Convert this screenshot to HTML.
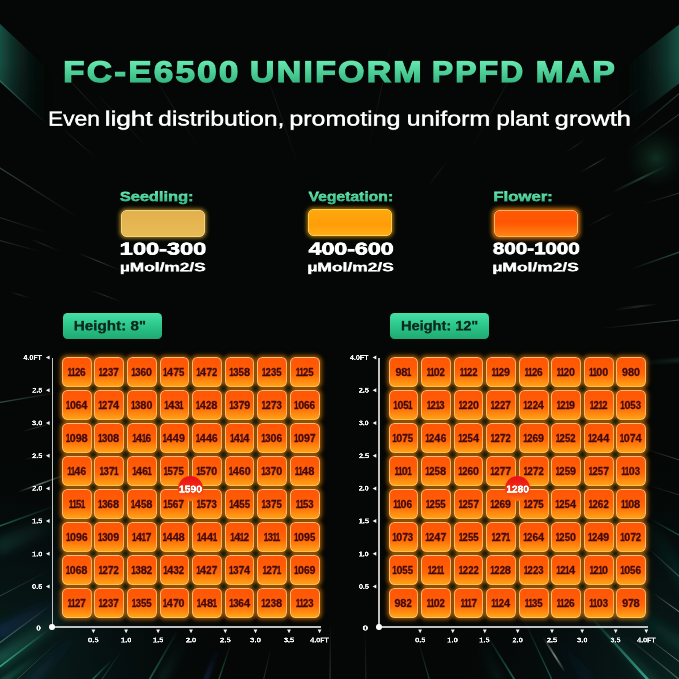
<!DOCTYPE html>
<html><head><meta charset="utf-8"><title>FC-E6500 Uniform PPFD Map</title>
<style>
html,body{margin:0;padding:0;background:#040706}
#p{position:relative;width:679px;height:679px;overflow:hidden;background:#040706;font-family:"Liberation Sans",sans-serif}
#bg{position:absolute;left:0;top:0;width:679px;height:679px}
.t{position:absolute;will-change:transform;line-height:1;white-space:nowrap;transform-origin:0 0;font-weight:700;color:#fff}
.ttl{background:linear-gradient(#68e8b0 26%,#35b781 74%);-webkit-background-clip:text;background-clip:text;-webkit-text-fill-color:transparent;-webkit-text-stroke-color:transparent;line-height:1.5}
.sub{font-weight:400}
.lbl{background:linear-gradient(#66e4ae 28%,#3cbd88 72%);-webkit-background-clip:text;background-clip:text;-webkit-text-fill-color:transparent;-webkit-text-stroke-color:transparent;line-height:1.5}
.btxt{color:#0c2a1f}
.ax{color:#f4f4f4}
.mk{color:#fff;text-shadow:0 0 5px rgba(255,220,190,.55)}
.sw{position:absolute;width:82.6px;height:25.4px;border-radius:5px;border:1px solid}
.btn{position:absolute;top:313px;width:98.5px;height:26.3px;border-radius:4.5px;background:linear-gradient(#48dfa6,#2cc88c 45%,#1fa971)}
.c{position:absolute;width:27.8px;height:27.8px;border:1.1px solid rgba(255,190,122,.95);border-bottom-color:rgba(255,206,96,.95);border-radius:5.5px;background:linear-gradient(#ff5607 0%,#ff5b06 35%,#ff6908 60%,#ff8a10 82%,#ffa418 100%);box-shadow:0 0 3.5px 1.1px rgba(255,150,10,.42),0 0 7px 2px rgba(255,120,0,.17);color:#420a10}
.n{position:absolute;left:50%;top:53.6%;font-size:40.8px;line-height:1;white-space:nowrap;transform:translate(-50%,-50%) scale(.25,.253);-webkit-text-stroke:1.2px #420a10}
.c b{display:inline-block;font-weight:700}
.d0{transform:scaleX(1.047);margin:0 .013em}
.d1{transform:scaleX(.8);margin:0 -.116em}
.d2{transform:scaleX(.928);margin:0 -.02em}
.d3{transform:scaleX(.938);margin:0 -.0175em}
.d4{transform:scaleX(1.08);margin:0 .022em}
.d5{transform:scaleX(.945);margin:0 -.0155em}
.d6{transform:scaleX(.985);margin:0 -.004em}
.d7{transform:scaleX(1);margin:0}
.d8{transform:scaleX(1.09);margin:0 .025em}
.d9{transform:scaleX(1.045);margin:0 .0125em}
.vl{position:absolute;top:357.6px;width:1.6px;height:269.6px;background:#c2c2c2}
.hl{position:absolute;top:626.4px;width:268.8px;height:1.6px;background:#c2c2c2}
.dot{position:absolute;top:624.4px;width:5.8px;height:5.8px;border-radius:50%;background:#fff}
.ov{position:absolute;left:0;top:0;width:679px;height:679px;pointer-events:none}
.x{position:absolute;width:9px;height:9px;margin:-4.5px 0 0 -4.5px;background:radial-gradient(closest-side,rgba(14,28,12,.9),rgba(30,34,8,.55) 45%,rgba(60,40,0,0))}
.mk0{position:absolute;top:476.1px;width:25.4px;height:25.4px;border-radius:50%;background:linear-gradient(#ec1218 10%,#f22c10 48%,#ff6a0c 92%);box-shadow:0 0 2px rgba(255,90,0,.6)}
</style></head><body>
<div id="p">
<svg id="bg" viewBox="0 0 679 679">
<defs>
<linearGradient id="btl" gradientUnits="userSpaceOnUse" x1="0" y1="0" x2="54" y2="0"><stop offset="0" stop-color="#1d6353" stop-opacity=".8"/><stop offset=".35" stop-color="#14463b" stop-opacity=".45"/><stop offset=".7" stop-color="#0d2a25" stop-opacity=".15"/><stop offset="1" stop-color="#0a1f1b" stop-opacity="0"/></linearGradient><linearGradient id="bfade" x1="0" y1="0" x2="0" y2="1"><stop offset="0" stop-color="#fff"/><stop offset=".35" stop-color="#fff"/><stop offset="1" stop-color="#fff" stop-opacity=".45"/></linearGradient><mask id="mtl" maskUnits="userSpaceOnUse" x="0" y="0" width="679" height="200"><rect x="0" y="20" width="679" height="120" fill="url(#bfade)"/></mask><filter id="b0" x="-10%" y="-10%" width="120%" height="120%"><feGaussianBlur stdDeviation=".7"/></filter><radialGradient id="blob" gradientUnits="userSpaceOnUse" cx="656" cy="158" r="30"><stop offset="0" stop-color="#14402c" stop-opacity=".7"/><stop offset="1" stop-color="#0a1f1b" stop-opacity="0"/></radialGradient>
<linearGradient id="btr" gradientUnits="userSpaceOnUse" x1="679" y1="0" x2="618" y2="0"><stop offset="0" stop-color="#1d6353" stop-opacity=".8"/><stop offset=".35" stop-color="#14463b" stop-opacity=".45"/><stop offset=".7" stop-color="#0d2a25" stop-opacity=".15"/><stop offset="1" stop-color="#0a1f1b" stop-opacity="0"/></linearGradient>
<radialGradient id="rbl" gradientUnits="userSpaceOnUse" cx="0" cy="679" r="240"><stop offset="0" stop-color="#0f4a40" stop-opacity=".45"/><stop offset=".55" stop-color="#0a2a30" stop-opacity=".2"/><stop offset="1" stop-color="#040706" stop-opacity="0"/></radialGradient>
<radialGradient id="rbr" gradientUnits="userSpaceOnUse" cx="679" cy="679" r="240"><stop offset="0" stop-color="#0f4a40" stop-opacity=".4"/><stop offset=".55" stop-color="#0a2a30" stop-opacity=".16"/><stop offset="1" stop-color="#040706" stop-opacity="0"/></radialGradient>
<filter id="b1" x="-20%" y="-20%" width="140%" height="140%"><feGaussianBlur stdDeviation="1.6"/></filter><filter id="b2" x="-30%" y="-30%" width="160%" height="160%"><feGaussianBlur stdDeviation="4"/></filter>
<linearGradient id="r0" gradientUnits="userSpaceOnUse" x1="70" y1="612" x2="-4" y2="662"><stop offset="0" stop-color="#2f9a84" stop-opacity="0"/><stop offset="1" stop-color="#2f9a84" stop-opacity="0.42"/></linearGradient>
<linearGradient id="r1" gradientUnits="userSpaceOnUse" x1="62" y1="600" x2="-4" y2="634"><stop offset="0" stop-color="#1c3a78" stop-opacity="0"/><stop offset="1" stop-color="#1c3a78" stop-opacity="0.5"/></linearGradient>
<linearGradient id="r2" gradientUnits="userSpaceOnUse" x1="48" y1="630" x2="-2" y2="668"><stop offset="0" stop-color="#35b08c" stop-opacity="0"/><stop offset="1" stop-color="#35b08c" stop-opacity="0.95"/></linearGradient>
<linearGradient id="r3" gradientUnits="userSpaceOnUse" x1="52" y1="604" x2="-2" y2="644"><stop offset="0" stop-color="#8fa39d" stop-opacity="0"/><stop offset="1" stop-color="#8fa39d" stop-opacity="0.55"/></linearGradient>
<linearGradient id="r4" gradientUnits="userSpaceOnUse" x1="48" y1="571" x2="-2" y2="597"><stop offset="0" stop-color="#8fa39d" stop-opacity="0"/><stop offset="1" stop-color="#8fa39d" stop-opacity="0.35"/></linearGradient>
<linearGradient id="r5" gradientUnits="userSpaceOnUse" x1="60" y1="640" x2="14" y2="682"><stop offset="0" stop-color="#8fa39d" stop-opacity="0"/><stop offset="1" stop-color="#8fa39d" stop-opacity="0.4"/></linearGradient>
<linearGradient id="r6" gradientUnits="userSpaceOnUse" x1="112" y1="660" x2="88" y2="684"><stop offset="0" stop-color="#2f9a84" stop-opacity="0"/><stop offset="1" stop-color="#2f9a84" stop-opacity="0.75"/></linearGradient>
<linearGradient id="r7" gradientUnits="userSpaceOnUse" x1="122" y1="650" x2="100" y2="682"><stop offset="0" stop-color="#2f9a84" stop-opacity="0"/><stop offset="1" stop-color="#2f9a84" stop-opacity="0.5"/></linearGradient>
<linearGradient id="r8" gradientUnits="userSpaceOnUse" x1="40" y1="655" x2="2" y2="682"><stop offset="0" stop-color="#2f9a84" stop-opacity="0"/><stop offset="1" stop-color="#2f9a84" stop-opacity="0.3"/></linearGradient>
<linearGradient id="r9" gradientUnits="userSpaceOnUse" x1="80" y1="632" x2="30" y2="682"><stop offset="0" stop-color="#1c3a78" stop-opacity="0"/><stop offset="1" stop-color="#1c3a78" stop-opacity="0.35"/></linearGradient>
<linearGradient id="r10" gradientUnits="userSpaceOnUse" x1="58" y1="392.5" x2="-2" y2="402.8"><stop offset="0" stop-color="#5a7f76" stop-opacity="0"/><stop offset="1" stop-color="#5a7f76" stop-opacity="0.6"/></linearGradient>
<linearGradient id="r11" gradientUnits="userSpaceOnUse" x1="52" y1="423.4" x2="22" y2="431.5"><stop offset="0" stop-color="#8fa39d" stop-opacity="0"/><stop offset=".55" stop-color="#8fa39d" stop-opacity="0.32"/><stop offset="1" stop-color="#8fa39d" stop-opacity="0"/></linearGradient>
<linearGradient id="r12" gradientUnits="userSpaceOnUse" x1="52" y1="453.3" x2="24" y2="459.6"><stop offset="0" stop-color="#8fa39d" stop-opacity="0"/><stop offset=".55" stop-color="#8fa39d" stop-opacity="0.32"/><stop offset="1" stop-color="#8fa39d" stop-opacity="0"/></linearGradient>
<linearGradient id="r13" gradientUnits="userSpaceOnUse" x1="66" y1="474.5" x2="18" y2="492"><stop offset="0" stop-color="#86a89c" stop-opacity="0"/><stop offset=".55" stop-color="#86a89c" stop-opacity="0.7"/><stop offset="1" stop-color="#86a89c" stop-opacity="0"/></linearGradient>
<linearGradient id="r14" gradientUnits="userSpaceOnUse" x1="56" y1="505.6" x2="-2" y2="526.6"><stop offset="0" stop-color="#2f9a84" stop-opacity="0"/><stop offset="1" stop-color="#2f9a84" stop-opacity="0.55"/></linearGradient>
<linearGradient id="r15" gradientUnits="userSpaceOnUse" x1="60" y1="520" x2="-4" y2="548"><stop offset="0" stop-color="#2f9a84" stop-opacity="0"/><stop offset="1" stop-color="#2f9a84" stop-opacity="0.22"/></linearGradient>
<linearGradient id="r16" gradientUnits="userSpaceOnUse" x1="78" y1="217.5" x2="-2" y2="166.7"><stop offset="0" stop-color="#5d7a72" stop-opacity="0"/><stop offset="1" stop-color="#5d7a72" stop-opacity="0.5"/></linearGradient>
<linearGradient id="r17" gradientUnits="userSpaceOnUse" x1="48" y1="233" x2="-2" y2="217"><stop offset="0" stop-color="#8fa39d" stop-opacity="0"/><stop offset="1" stop-color="#8fa39d" stop-opacity="0.25"/></linearGradient>
<linearGradient id="r18" gradientUnits="userSpaceOnUse" x1="42" y1="252" x2="-2" y2="240"><stop offset="0" stop-color="#8fa39d" stop-opacity="0"/><stop offset="1" stop-color="#8fa39d" stop-opacity="0.28"/></linearGradient>
<linearGradient id="r19" gradientUnits="userSpaceOnUse" x1="60" y1="251.4" x2="30" y2="238.6"><stop offset="0" stop-color="#8fa39d" stop-opacity="0"/><stop offset=".55" stop-color="#8fa39d" stop-opacity="0.22"/><stop offset="1" stop-color="#8fa39d" stop-opacity="0"/></linearGradient>
<linearGradient id="r20" gradientUnits="userSpaceOnUse" x1="122" y1="271" x2="78" y2="253"><stop offset="0" stop-color="#8fa39d" stop-opacity="0"/><stop offset=".55" stop-color="#8fa39d" stop-opacity="0.3"/><stop offset="1" stop-color="#8fa39d" stop-opacity="0"/></linearGradient>
<linearGradient id="r21" gradientUnits="userSpaceOnUse" x1="122" y1="302" x2="90" y2="290"><stop offset="0" stop-color="#8fa39d" stop-opacity="0"/><stop offset=".55" stop-color="#8fa39d" stop-opacity="0.25"/><stop offset="1" stop-color="#8fa39d" stop-opacity="0"/></linearGradient>
<linearGradient id="r22" gradientUnits="userSpaceOnUse" x1="30" y1="298" x2="10" y2="292"><stop offset="0" stop-color="#8fa39d" stop-opacity="0"/><stop offset=".55" stop-color="#8fa39d" stop-opacity="0.2"/><stop offset="1" stop-color="#8fa39d" stop-opacity="0"/></linearGradient>
<linearGradient id="r23" gradientUnits="userSpaceOnUse" x1="48" y1="125" x2="-2" y2="79"><stop offset="0" stop-color="#4c7a6e" stop-opacity="0"/><stop offset="1" stop-color="#4c7a6e" stop-opacity="0.6"/></linearGradient>
<linearGradient id="r24" gradientUnits="userSpaceOnUse" x1="105" y1="118" x2="60" y2="70"><stop offset="0" stop-color="#8fa39d" stop-opacity="0"/><stop offset=".55" stop-color="#8fa39d" stop-opacity="0.2"/><stop offset="1" stop-color="#8fa39d" stop-opacity="0"/></linearGradient>
<linearGradient id="r25" gradientUnits="userSpaceOnUse" x1="150" y1="150" x2="95" y2="92"><stop offset="0" stop-color="#8fa39d" stop-opacity="0"/><stop offset=".55" stop-color="#8fa39d" stop-opacity="0.16"/><stop offset="1" stop-color="#8fa39d" stop-opacity="0"/></linearGradient>
<linearGradient id="r26" gradientUnits="userSpaceOnUse" x1="96" y1="158" x2="62" y2="128"><stop offset="0" stop-color="#8fa39d" stop-opacity="0"/><stop offset=".55" stop-color="#8fa39d" stop-opacity="0.18"/><stop offset="1" stop-color="#8fa39d" stop-opacity="0"/></linearGradient>
<linearGradient id="r27" gradientUnits="userSpaceOnUse" x1="178" y1="630" x2="148" y2="682"><stop offset="0" stop-color="#2f9470" stop-opacity="0"/><stop offset="1" stop-color="#2f9470" stop-opacity="0.6"/></linearGradient>
<linearGradient id="r28" gradientUnits="userSpaceOnUse" x1="184" y1="640" x2="160" y2="682"><stop offset="0" stop-color="#2f9a84" stop-opacity="0"/><stop offset="1" stop-color="#2f9a84" stop-opacity="0.2"/></linearGradient>
<linearGradient id="r29" gradientUnits="userSpaceOnUse" x1="218" y1="648" x2="205" y2="682"><stop offset="0" stop-color="#1c3a78" stop-opacity="0"/><stop offset="1" stop-color="#1c3a78" stop-opacity="0.4"/></linearGradient>
<linearGradient id="r30" gradientUnits="userSpaceOnUse" x1="231" y1="643" x2="218" y2="682"><stop offset="0" stop-color="#2e8a5c" stop-opacity="0"/><stop offset="1" stop-color="#2e8a5c" stop-opacity="0.6"/></linearGradient>
<linearGradient id="r31" gradientUnits="userSpaceOnUse" x1="271" y1="648" x2="263" y2="682"><stop offset="0" stop-color="#8fa39d" stop-opacity="0"/><stop offset="1" stop-color="#8fa39d" stop-opacity="0.3"/></linearGradient>
<linearGradient id="r32" gradientUnits="userSpaceOnUse" x1="330.5" y1="622" x2="330" y2="682"><stop offset="0" stop-color="#8fa39d" stop-opacity="0"/><stop offset="1" stop-color="#8fa39d" stop-opacity="0.3"/></linearGradient>
<linearGradient id="r33" gradientUnits="userSpaceOnUse" x1="365" y1="630" x2="366" y2="682"><stop offset="0" stop-color="#8fa39d" stop-opacity="0"/><stop offset="1" stop-color="#8fa39d" stop-opacity="0.22"/></linearGradient>
<linearGradient id="r34" gradientUnits="userSpaceOnUse" x1="418" y1="640" x2="430" y2="682"><stop offset="0" stop-color="#2f9a84" stop-opacity="0"/><stop offset="1" stop-color="#2f9a84" stop-opacity="0.4"/></linearGradient>
<linearGradient id="r35" gradientUnits="userSpaceOnUse" x1="486" y1="634" x2="516" y2="682"><stop offset="0" stop-color="#2f9a84" stop-opacity="0"/><stop offset="1" stop-color="#2f9a84" stop-opacity="0.6"/></linearGradient>
<linearGradient id="r36" gradientUnits="userSpaceOnUse" x1="480" y1="640" x2="500" y2="682"><stop offset="0" stop-color="#2f9a84" stop-opacity="0"/><stop offset="1" stop-color="#2f9a84" stop-opacity="0.18"/></linearGradient>
<linearGradient id="r37" gradientUnits="userSpaceOnUse" x1="543" y1="637" x2="565" y2="672"><stop offset="0" stop-color="#9fb0ac" stop-opacity="0"/><stop offset=".55" stop-color="#9fb0ac" stop-opacity="0.7"/><stop offset="1" stop-color="#9fb0ac" stop-opacity="0"/></linearGradient>
<linearGradient id="r38" gradientUnits="userSpaceOnUse" x1="524" y1="620" x2="553" y2="682"><stop offset="0" stop-color="#2f9a84" stop-opacity="0"/><stop offset="1" stop-color="#2f9a84" stop-opacity="0.55"/></linearGradient>
<linearGradient id="r39" gradientUnits="userSpaceOnUse" x1="590" y1="616" x2="650" y2="682"><stop offset="0" stop-color="#35a892" stop-opacity="0"/><stop offset="1" stop-color="#35a892" stop-opacity="0.95"/></linearGradient>
<linearGradient id="r40" gradientUnits="userSpaceOnUse" x1="588" y1="610" x2="660" y2="690"><stop offset="0" stop-color="#2f9a84" stop-opacity="0"/><stop offset="1" stop-color="#2f9a84" stop-opacity="0.32"/></linearGradient>
<linearGradient id="r41" gradientUnits="userSpaceOnUse" x1="626" y1="636" x2="681" y2="681"><stop offset="0" stop-color="#8fa39d" stop-opacity="0"/><stop offset="1" stop-color="#8fa39d" stop-opacity="0.5"/></linearGradient>
<linearGradient id="r42" gradientUnits="userSpaceOnUse" x1="644" y1="635" x2="681" y2="663"><stop offset="0" stop-color="#c9d6d2" stop-opacity="0"/><stop offset="1" stop-color="#c9d6d2" stop-opacity="0.55"/></linearGradient>
<linearGradient id="r43" gradientUnits="userSpaceOnUse" x1="610" y1="596" x2="690" y2="650"><stop offset="0" stop-color="#1a6a5c" stop-opacity="0"/><stop offset="1" stop-color="#1a6a5c" stop-opacity="0.3"/></linearGradient>
<linearGradient id="r44" gradientUnits="userSpaceOnUse" x1="646" y1="520" x2="690" y2="590"><stop offset="0" stop-color="#14584c" stop-opacity="0"/><stop offset="1" stop-color="#14584c" stop-opacity="0.32"/></linearGradient>
<linearGradient id="r45" gradientUnits="userSpaceOnUse" x1="560" y1="640" x2="590" y2="682"><stop offset="0" stop-color="#1c3a78" stop-opacity="0"/><stop offset="1" stop-color="#1c3a78" stop-opacity="0.3"/></linearGradient>
<linearGradient id="r46" gradientUnits="userSpaceOnUse" x1="612" y1="310.5" x2="657" y2="304.5"><stop offset="0" stop-color="#8fa39d" stop-opacity="0"/><stop offset=".55" stop-color="#8fa39d" stop-opacity="0.22"/><stop offset="1" stop-color="#8fa39d" stop-opacity="0"/></linearGradient>
<linearGradient id="r47" gradientUnits="userSpaceOnUse" x1="600" y1="328.5" x2="681" y2="319.8"><stop offset="0" stop-color="#7a928b" stop-opacity="0"/><stop offset="1" stop-color="#7a928b" stop-opacity="0.5"/></linearGradient>
<linearGradient id="r48" gradientUnits="userSpaceOnUse" x1="640" y1="363" x2="681" y2="360"><stop offset="0" stop-color="#3a6a62" stop-opacity="0"/><stop offset="1" stop-color="#3a6a62" stop-opacity="0.4"/></linearGradient>
<linearGradient id="r49" gradientUnits="userSpaceOnUse" x1="645" y1="449" x2="681" y2="460.5"><stop offset="0" stop-color="#8fa39d" stop-opacity="0"/><stop offset="1" stop-color="#8fa39d" stop-opacity="0.4"/></linearGradient>
<linearGradient id="r50" gradientUnits="userSpaceOnUse" x1="646" y1="484.5" x2="681" y2="495.5"><stop offset="0" stop-color="#8fa39d" stop-opacity="0"/><stop offset="1" stop-color="#8fa39d" stop-opacity="0.25"/></linearGradient>
<linearGradient id="r51" gradientUnits="userSpaceOnUse" x1="650" y1="519" x2="681" y2="536"><stop offset="0" stop-color="#2f9a84" stop-opacity="0"/><stop offset="1" stop-color="#2f9a84" stop-opacity="0.55"/></linearGradient>
<linearGradient id="r52" gradientUnits="userSpaceOnUse" x1="648" y1="548" x2="681" y2="578"><stop offset="0" stop-color="#8fa39d" stop-opacity="0"/><stop offset="1" stop-color="#8fa39d" stop-opacity="0.45"/></linearGradient>
<linearGradient id="r53" gradientUnits="userSpaceOnUse" x1="653" y1="593" x2="681" y2="613"><stop offset="0" stop-color="#c9d6d2" stop-opacity="0"/><stop offset="1" stop-color="#c9d6d2" stop-opacity="0.55"/></linearGradient>
<linearGradient id="r54" gradientUnits="userSpaceOnUse" x1="580" y1="172.5" x2="607" y2="157"><stop offset="0" stop-color="#8fa39d" stop-opacity="0"/><stop offset=".55" stop-color="#8fa39d" stop-opacity="0.3"/><stop offset="1" stop-color="#8fa39d" stop-opacity="0"/></linearGradient>
<linearGradient id="r55" gradientUnits="userSpaceOnUse" x1="612" y1="192.5" x2="666" y2="166"><stop offset="0" stop-color="#3f6e58" stop-opacity="0"/><stop offset=".55" stop-color="#3f6e58" stop-opacity="0.5"/><stop offset="1" stop-color="#3f6e58" stop-opacity="0"/></linearGradient>
<linearGradient id="r56" gradientUnits="userSpaceOnUse" x1="643" y1="204" x2="681" y2="192.5"><stop offset="0" stop-color="#8fa39d" stop-opacity="0"/><stop offset="1" stop-color="#8fa39d" stop-opacity="0.3"/></linearGradient>
<linearGradient id="r57" gradientUnits="userSpaceOnUse" x1="588" y1="226" x2="615" y2="212"><stop offset="0" stop-color="#8fa39d" stop-opacity="0"/><stop offset=".55" stop-color="#8fa39d" stop-opacity="0.22"/><stop offset="1" stop-color="#8fa39d" stop-opacity="0"/></linearGradient>
<linearGradient id="r58" gradientUnits="userSpaceOnUse" x1="630" y1="269.5" x2="681" y2="251.5"><stop offset="0" stop-color="#3f8068" stop-opacity="0"/><stop offset="1" stop-color="#3f8068" stop-opacity="0.6"/></linearGradient>
<linearGradient id="r59" gradientUnits="userSpaceOnUse" x1="618" y1="308" x2="657" y2="304"><stop offset="0" stop-color="#8fa39d" stop-opacity="0"/><stop offset=".55" stop-color="#8fa39d" stop-opacity="0.2"/><stop offset="1" stop-color="#8fa39d" stop-opacity="0"/></linearGradient>
<linearGradient id="r60" gradientUnits="userSpaceOnUse" x1="565" y1="153" x2="585" y2="139.5"><stop offset="0" stop-color="#8fa39d" stop-opacity="0"/><stop offset=".55" stop-color="#8fa39d" stop-opacity="0.2"/><stop offset="1" stop-color="#8fa39d" stop-opacity="0"/></linearGradient>
<linearGradient id="r61" gradientUnits="userSpaceOnUse" x1="628" y1="151" x2="681" y2="113"><stop offset="0" stop-color="#8fa39d" stop-opacity="0"/><stop offset="1" stop-color="#8fa39d" stop-opacity="0.3"/></linearGradient>
<linearGradient id="r62" gradientUnits="userSpaceOnUse" x1="427" y1="188" x2="447" y2="161"><stop offset="0" stop-color="#8fa39d" stop-opacity="0"/><stop offset=".55" stop-color="#8fa39d" stop-opacity="0.15"/><stop offset="1" stop-color="#8fa39d" stop-opacity="0"/></linearGradient>
<linearGradient id="r63" gradientUnits="userSpaceOnUse" x1="600" y1="120" x2="640" y2="88"><stop offset="0" stop-color="#8fa39d" stop-opacity="0"/><stop offset=".55" stop-color="#8fa39d" stop-opacity="0.22"/><stop offset="1" stop-color="#8fa39d" stop-opacity="0"/></linearGradient>
<linearGradient id="r64" gradientUnits="userSpaceOnUse" x1="630" y1="135" x2="681" y2="92"><stop offset="0" stop-color="#4c7a6e" stop-opacity="0"/><stop offset="1" stop-color="#4c7a6e" stop-opacity="0.5"/></linearGradient>
<linearGradient id="r65" gradientUnits="userSpaceOnUse" x1="300" y1="170" x2="262" y2="62"><stop offset="0" stop-color="#8fa39d" stop-opacity="0"/><stop offset=".55" stop-color="#8fa39d" stop-opacity="0.12"/><stop offset="1" stop-color="#8fa39d" stop-opacity="0"/></linearGradient>
<linearGradient id="r66" gradientUnits="userSpaceOnUse" x1="368" y1="150" x2="392" y2="40"><stop offset="0" stop-color="#8fa39d" stop-opacity="0"/><stop offset=".55" stop-color="#8fa39d" stop-opacity="0.1"/><stop offset="1" stop-color="#8fa39d" stop-opacity="0"/></linearGradient>
<linearGradient id="r67" gradientUnits="userSpaceOnUse" x1="470" y1="150" x2="520" y2="60"><stop offset="0" stop-color="#8fa39d" stop-opacity="0"/><stop offset=".55" stop-color="#8fa39d" stop-opacity="0.12"/><stop offset="1" stop-color="#8fa39d" stop-opacity="0"/></linearGradient>
<linearGradient id="r68" gradientUnits="userSpaceOnUse" x1="200" y1="150" x2="150" y2="70"><stop offset="0" stop-color="#8fa39d" stop-opacity="0"/><stop offset=".55" stop-color="#8fa39d" stop-opacity="0.12"/><stop offset="1" stop-color="#8fa39d" stop-opacity="0"/></linearGradient>
</defs>
<rect width="679" height="679" fill="#040706"/>
<rect width="679" height="679" fill="url(#rbl)"/>
<rect width="679" height="679" fill="url(#rbr)"/>
<g filter="url(#b0)" mask="url(#mtl)"><polygon points="-2,22 -2,80 60,138 60,80" fill="url(#btl)"/><polygon points="681,23 681,82 609,137 609,79" fill="url(#btr)"/></g><circle cx="656" cy="158" r="30" fill="url(#blob)"/>
<g filter="url(#b2)"><line x1="70" y1="612" x2="-4" y2="662" stroke="url(#r0)" stroke-width="14"/><line x1="62" y1="600" x2="-4" y2="634" stroke="url(#r1)" stroke-width="12"/><line x1="80" y1="632" x2="30" y2="682" stroke="url(#r9)" stroke-width="8"/><line x1="60" y1="520" x2="-4" y2="548" stroke="url(#r15)" stroke-width="16"/><line x1="184" y1="640" x2="160" y2="682" stroke="url(#r28)" stroke-width="7"/><line x1="480" y1="640" x2="500" y2="682" stroke="url(#r36)" stroke-width="6"/><line x1="588" y1="610" x2="660" y2="690" stroke="url(#r40)" stroke-width="7"/><line x1="610" y1="596" x2="690" y2="650" stroke="url(#r43)" stroke-width="12"/><line x1="646" y1="520" x2="690" y2="590" stroke="url(#r44)" stroke-width="14"/><line x1="560" y1="640" x2="590" y2="682" stroke="url(#r45)" stroke-width="6"/></g><g filter="url(#b1)"><line x1="40" y1="655" x2="2" y2="682" stroke="url(#r8)" stroke-width="6"/><line x1="218" y1="648" x2="205" y2="682" stroke="url(#r29)" stroke-width="5"/><line x1="640" y1="363" x2="681" y2="360" stroke="url(#r48)" stroke-width="3"/></g><g stroke-linecap="round"><line x1="48" y1="630" x2="-2" y2="668" stroke="url(#r2)" stroke-width="1.6"/><line x1="52" y1="604" x2="-2" y2="644" stroke="url(#r3)" stroke-width="1.1"/><line x1="48" y1="571" x2="-2" y2="597" stroke="url(#r4)" stroke-width="1.0"/><line x1="60" y1="640" x2="14" y2="682" stroke="url(#r5)" stroke-width="1.0"/><line x1="112" y1="660" x2="88" y2="684" stroke="url(#r6)" stroke-width="1.6"/><line x1="122" y1="650" x2="100" y2="682" stroke="url(#r7)" stroke-width="1.0"/><line x1="58" y1="392.5" x2="-2" y2="402.8" stroke="url(#r10)" stroke-width="1.3"/><line x1="52" y1="423.4" x2="22" y2="431.5" stroke="url(#r11)" stroke-width="1.0"/><line x1="52" y1="453.3" x2="24" y2="459.6" stroke="url(#r12)" stroke-width="1.0"/><line x1="66" y1="474.5" x2="18" y2="492" stroke="url(#r13)" stroke-width="1.4"/><line x1="56" y1="505.6" x2="-2" y2="526.6" stroke="url(#r14)" stroke-width="1.8"/><line x1="78" y1="217.5" x2="-2" y2="166.7" stroke="url(#r16)" stroke-width="1.3"/><line x1="48" y1="233" x2="-2" y2="217" stroke="url(#r17)" stroke-width="1.0"/><line x1="42" y1="252" x2="-2" y2="240" stroke="url(#r18)" stroke-width="1.0"/><line x1="60" y1="251.4" x2="30" y2="238.6" stroke="url(#r19)" stroke-width="1.0"/><line x1="122" y1="271" x2="78" y2="253" stroke="url(#r20)" stroke-width="1.1"/><line x1="122" y1="302" x2="90" y2="290" stroke="url(#r21)" stroke-width="1.0"/><line x1="30" y1="298" x2="10" y2="292" stroke="url(#r22)" stroke-width="1.0"/><line x1="48" y1="125" x2="-2" y2="79" stroke="url(#r23)" stroke-width="1.2"/><line x1="105" y1="118" x2="60" y2="70" stroke="url(#r24)" stroke-width="1.0"/><line x1="150" y1="150" x2="95" y2="92" stroke="url(#r25)" stroke-width="1.0"/><line x1="96" y1="158" x2="62" y2="128" stroke="url(#r26)" stroke-width="1.0"/><line x1="178" y1="630" x2="148" y2="682" stroke="url(#r27)" stroke-width="1.8"/><line x1="231" y1="643" x2="218" y2="682" stroke="url(#r30)" stroke-width="1.4"/><line x1="271" y1="648" x2="263" y2="682" stroke="url(#r31)" stroke-width="1.0"/><line x1="330.5" y1="622" x2="330" y2="682" stroke="url(#r32)" stroke-width="1.2"/><line x1="365" y1="630" x2="366" y2="682" stroke="url(#r33)" stroke-width="1.0"/><line x1="418" y1="640" x2="430" y2="682" stroke="url(#r34)" stroke-width="1.2"/><line x1="486" y1="634" x2="516" y2="682" stroke="url(#r35)" stroke-width="1.8"/><line x1="543" y1="637" x2="565" y2="672" stroke="url(#r37)" stroke-width="2.0"/><line x1="524" y1="620" x2="553" y2="682" stroke="url(#r38)" stroke-width="1.3"/><line x1="590" y1="616" x2="650" y2="682" stroke="url(#r39)" stroke-width="2.6"/><line x1="626" y1="636" x2="681" y2="681" stroke="url(#r41)" stroke-width="1.2"/><line x1="644" y1="635" x2="681" y2="663" stroke="url(#r42)" stroke-width="1.0"/><line x1="612" y1="310.5" x2="657" y2="304.5" stroke="url(#r46)" stroke-width="1.0"/><line x1="600" y1="328.5" x2="681" y2="319.8" stroke="url(#r47)" stroke-width="1.2"/><line x1="645" y1="449" x2="681" y2="460.5" stroke="url(#r49)" stroke-width="1.0"/><line x1="646" y1="484.5" x2="681" y2="495.5" stroke="url(#r50)" stroke-width="1.0"/><line x1="650" y1="519" x2="681" y2="536" stroke="url(#r51)" stroke-width="1.3"/><line x1="648" y1="548" x2="681" y2="578" stroke="url(#r52)" stroke-width="1.1"/><line x1="653" y1="593" x2="681" y2="613" stroke="url(#r53)" stroke-width="1.1"/><line x1="580" y1="172.5" x2="607" y2="157" stroke="url(#r54)" stroke-width="1.1"/><line x1="612" y1="192.5" x2="666" y2="166" stroke="url(#r55)" stroke-width="2.0"/><line x1="643" y1="204" x2="681" y2="192.5" stroke="url(#r56)" stroke-width="1.0"/><line x1="588" y1="226" x2="615" y2="212" stroke="url(#r57)" stroke-width="1.0"/><line x1="630" y1="269.5" x2="681" y2="251.5" stroke="url(#r58)" stroke-width="1.4"/><line x1="618" y1="308" x2="657" y2="304" stroke="url(#r59)" stroke-width="1.0"/><line x1="565" y1="153" x2="585" y2="139.5" stroke="url(#r60)" stroke-width="1.0"/><line x1="628" y1="151" x2="681" y2="113" stroke="url(#r61)" stroke-width="1.1"/><line x1="427" y1="188" x2="447" y2="161" stroke="url(#r62)" stroke-width="1.0"/><line x1="600" y1="120" x2="640" y2="88" stroke="url(#r63)" stroke-width="1.0"/><line x1="630" y1="135" x2="681" y2="92" stroke="url(#r64)" stroke-width="1.2"/><line x1="300" y1="170" x2="262" y2="62" stroke="url(#r65)" stroke-width="1.0"/><line x1="368" y1="150" x2="392" y2="40" stroke="url(#r66)" stroke-width="1.0"/><line x1="470" y1="150" x2="520" y2="60" stroke="url(#r67)" stroke-width="1.0"/><line x1="200" y1="150" x2="150" y2="70" stroke="url(#r68)" stroke-width="1.0"/></g>
</svg>
<div class="sw" style="left:120.7px;top:209.5px;background:linear-gradient(#e2b04c,#e8bb56);border-color:#f5d47e;box-shadow:0 0 4px 1px rgba(255,200,60,.7)"></div>
<div class="sw" style="left:307.9px;top:208.8px;background:linear-gradient(#ffa80e,#ff9d08 60%,#ffac18);border-color:#ffd24a;box-shadow:0 0 4px 1px rgba(255,180,20,.75)"></div>
<div class="sw" style="left:493.9px;top:209.5px;background:linear-gradient(#ff5a06,#ff5503 45%,#ff8412);border-color:#ffb066;box-shadow:0 0 4px 1.2px rgba(255,140,10,.8)"></div>
<div class="btn" style="left:63px"></div>
<div class="btn" style="left:390.3px"></div>
<div class="c" style="left:61.85px;top:357.00px"><span class="n"><b class="d1">1</b><b class="d1">1</b><b class="d2">2</b><b class="d6">6</b></span></div>
<div class="c" style="left:94.41px;top:357.00px"><span class="n"><b class="d1">1</b><b class="d2">2</b><b class="d3">3</b><b class="d7">7</b></span></div>
<div class="c" style="left:126.97px;top:357.00px"><span class="n"><b class="d1">1</b><b class="d3">3</b><b class="d6">6</b><b class="d0">0</b></span></div>
<div class="c" style="left:159.53px;top:357.00px"><span class="n"><b class="d1">1</b><b class="d4">4</b><b class="d7">7</b><b class="d5">5</b></span></div>
<div class="c" style="left:192.09px;top:357.00px"><span class="n"><b class="d1">1</b><b class="d4">4</b><b class="d7">7</b><b class="d2">2</b></span></div>
<div class="c" style="left:224.65px;top:357.00px"><span class="n"><b class="d1">1</b><b class="d3">3</b><b class="d5">5</b><b class="d8">8</b></span></div>
<div class="c" style="left:257.21px;top:357.00px"><span class="n"><b class="d1">1</b><b class="d2">2</b><b class="d3">3</b><b class="d5">5</b></span></div>
<div class="c" style="left:289.77px;top:357.00px"><span class="n"><b class="d1">1</b><b class="d1">1</b><b class="d2">2</b><b class="d5">5</b></span></div>
<div class="c" style="left:61.85px;top:389.96px"><span class="n"><b class="d1">1</b><b class="d0">0</b><b class="d6">6</b><b class="d4">4</b></span></div>
<div class="c" style="left:94.41px;top:389.96px"><span class="n"><b class="d1">1</b><b class="d2">2</b><b class="d7">7</b><b class="d4">4</b></span></div>
<div class="c" style="left:126.97px;top:389.96px"><span class="n"><b class="d1">1</b><b class="d3">3</b><b class="d8">8</b><b class="d0">0</b></span></div>
<div class="c" style="left:159.53px;top:389.96px"><span class="n"><b class="d1">1</b><b class="d4">4</b><b class="d3">3</b><b class="d1">1</b></span></div>
<div class="c" style="left:192.09px;top:389.96px"><span class="n"><b class="d1">1</b><b class="d4">4</b><b class="d2">2</b><b class="d8">8</b></span></div>
<div class="c" style="left:224.65px;top:389.96px"><span class="n"><b class="d1">1</b><b class="d3">3</b><b class="d7">7</b><b class="d9">9</b></span></div>
<div class="c" style="left:257.21px;top:389.96px"><span class="n"><b class="d1">1</b><b class="d2">2</b><b class="d7">7</b><b class="d3">3</b></span></div>
<div class="c" style="left:289.77px;top:389.96px"><span class="n"><b class="d1">1</b><b class="d0">0</b><b class="d6">6</b><b class="d6">6</b></span></div>
<div class="c" style="left:61.85px;top:422.92px"><span class="n"><b class="d1">1</b><b class="d0">0</b><b class="d9">9</b><b class="d8">8</b></span></div>
<div class="c" style="left:94.41px;top:422.92px"><span class="n"><b class="d1">1</b><b class="d3">3</b><b class="d0">0</b><b class="d8">8</b></span></div>
<div class="c" style="left:126.97px;top:422.92px"><span class="n"><b class="d1">1</b><b class="d4">4</b><b class="d1">1</b><b class="d6">6</b></span></div>
<div class="c" style="left:159.53px;top:422.92px"><span class="n"><b class="d1">1</b><b class="d4">4</b><b class="d4">4</b><b class="d9">9</b></span></div>
<div class="c" style="left:192.09px;top:422.92px"><span class="n"><b class="d1">1</b><b class="d4">4</b><b class="d4">4</b><b class="d6">6</b></span></div>
<div class="c" style="left:224.65px;top:422.92px"><span class="n"><b class="d1">1</b><b class="d4">4</b><b class="d1">1</b><b class="d4">4</b></span></div>
<div class="c" style="left:257.21px;top:422.92px"><span class="n"><b class="d1">1</b><b class="d3">3</b><b class="d0">0</b><b class="d6">6</b></span></div>
<div class="c" style="left:289.77px;top:422.92px"><span class="n"><b class="d1">1</b><b class="d0">0</b><b class="d9">9</b><b class="d7">7</b></span></div>
<div class="c" style="left:61.85px;top:455.88px"><span class="n"><b class="d1">1</b><b class="d1">1</b><b class="d4">4</b><b class="d6">6</b></span></div>
<div class="c" style="left:94.41px;top:455.88px"><span class="n"><b class="d1">1</b><b class="d3">3</b><b class="d7">7</b><b class="d1">1</b></span></div>
<div class="c" style="left:126.97px;top:455.88px"><span class="n"><b class="d1">1</b><b class="d4">4</b><b class="d6">6</b><b class="d1">1</b></span></div>
<div class="c" style="left:159.53px;top:455.88px"><span class="n"><b class="d1">1</b><b class="d5">5</b><b class="d7">7</b><b class="d5">5</b></span></div>
<div class="c" style="left:192.09px;top:455.88px"><span class="n"><b class="d1">1</b><b class="d5">5</b><b class="d7">7</b><b class="d0">0</b></span></div>
<div class="c" style="left:224.65px;top:455.88px"><span class="n"><b class="d1">1</b><b class="d4">4</b><b class="d6">6</b><b class="d0">0</b></span></div>
<div class="c" style="left:257.21px;top:455.88px"><span class="n"><b class="d1">1</b><b class="d3">3</b><b class="d7">7</b><b class="d0">0</b></span></div>
<div class="c" style="left:289.77px;top:455.88px"><span class="n"><b class="d1">1</b><b class="d1">1</b><b class="d4">4</b><b class="d8">8</b></span></div>
<div class="c" style="left:61.85px;top:488.84px"><span class="n"><b class="d1">1</b><b class="d1">1</b><b class="d5">5</b><b class="d1">1</b></span></div>
<div class="c" style="left:94.41px;top:488.84px"><span class="n"><b class="d1">1</b><b class="d3">3</b><b class="d6">6</b><b class="d8">8</b></span></div>
<div class="c" style="left:126.97px;top:488.84px"><span class="n"><b class="d1">1</b><b class="d4">4</b><b class="d5">5</b><b class="d8">8</b></span></div>
<div class="c" style="left:159.53px;top:488.84px"><span class="n"><b class="d1">1</b><b class="d5">5</b><b class="d6">6</b><b class="d7">7</b></span></div>
<div class="c" style="left:192.09px;top:488.84px"><span class="n"><b class="d1">1</b><b class="d5">5</b><b class="d7">7</b><b class="d3">3</b></span></div>
<div class="c" style="left:224.65px;top:488.84px"><span class="n"><b class="d1">1</b><b class="d4">4</b><b class="d5">5</b><b class="d5">5</b></span></div>
<div class="c" style="left:257.21px;top:488.84px"><span class="n"><b class="d1">1</b><b class="d3">3</b><b class="d7">7</b><b class="d5">5</b></span></div>
<div class="c" style="left:289.77px;top:488.84px"><span class="n"><b class="d1">1</b><b class="d1">1</b><b class="d5">5</b><b class="d3">3</b></span></div>
<div class="c" style="left:61.85px;top:521.80px"><span class="n"><b class="d1">1</b><b class="d0">0</b><b class="d9">9</b><b class="d6">6</b></span></div>
<div class="c" style="left:94.41px;top:521.80px"><span class="n"><b class="d1">1</b><b class="d3">3</b><b class="d0">0</b><b class="d9">9</b></span></div>
<div class="c" style="left:126.97px;top:521.80px"><span class="n"><b class="d1">1</b><b class="d4">4</b><b class="d1">1</b><b class="d7">7</b></span></div>
<div class="c" style="left:159.53px;top:521.80px"><span class="n"><b class="d1">1</b><b class="d4">4</b><b class="d4">4</b><b class="d8">8</b></span></div>
<div class="c" style="left:192.09px;top:521.80px"><span class="n"><b class="d1">1</b><b class="d4">4</b><b class="d4">4</b><b class="d1">1</b></span></div>
<div class="c" style="left:224.65px;top:521.80px"><span class="n"><b class="d1">1</b><b class="d4">4</b><b class="d1">1</b><b class="d2">2</b></span></div>
<div class="c" style="left:257.21px;top:521.80px"><span class="n"><b class="d1">1</b><b class="d3">3</b><b class="d1">1</b><b class="d1">1</b></span></div>
<div class="c" style="left:289.77px;top:521.80px"><span class="n"><b class="d1">1</b><b class="d0">0</b><b class="d9">9</b><b class="d5">5</b></span></div>
<div class="c" style="left:61.85px;top:554.76px"><span class="n"><b class="d1">1</b><b class="d0">0</b><b class="d6">6</b><b class="d8">8</b></span></div>
<div class="c" style="left:94.41px;top:554.76px"><span class="n"><b class="d1">1</b><b class="d2">2</b><b class="d7">7</b><b class="d2">2</b></span></div>
<div class="c" style="left:126.97px;top:554.76px"><span class="n"><b class="d1">1</b><b class="d3">3</b><b class="d8">8</b><b class="d2">2</b></span></div>
<div class="c" style="left:159.53px;top:554.76px"><span class="n"><b class="d1">1</b><b class="d4">4</b><b class="d3">3</b><b class="d2">2</b></span></div>
<div class="c" style="left:192.09px;top:554.76px"><span class="n"><b class="d1">1</b><b class="d4">4</b><b class="d2">2</b><b class="d7">7</b></span></div>
<div class="c" style="left:224.65px;top:554.76px"><span class="n"><b class="d1">1</b><b class="d3">3</b><b class="d7">7</b><b class="d4">4</b></span></div>
<div class="c" style="left:257.21px;top:554.76px"><span class="n"><b class="d1">1</b><b class="d2">2</b><b class="d7">7</b><b class="d1">1</b></span></div>
<div class="c" style="left:289.77px;top:554.76px"><span class="n"><b class="d1">1</b><b class="d0">0</b><b class="d6">6</b><b class="d9">9</b></span></div>
<div class="c" style="left:61.85px;top:587.72px"><span class="n"><b class="d1">1</b><b class="d1">1</b><b class="d2">2</b><b class="d7">7</b></span></div>
<div class="c" style="left:94.41px;top:587.72px"><span class="n"><b class="d1">1</b><b class="d2">2</b><b class="d3">3</b><b class="d7">7</b></span></div>
<div class="c" style="left:126.97px;top:587.72px"><span class="n"><b class="d1">1</b><b class="d3">3</b><b class="d5">5</b><b class="d5">5</b></span></div>
<div class="c" style="left:159.53px;top:587.72px"><span class="n"><b class="d1">1</b><b class="d4">4</b><b class="d7">7</b><b class="d0">0</b></span></div>
<div class="c" style="left:192.09px;top:587.72px"><span class="n"><b class="d1">1</b><b class="d4">4</b><b class="d8">8</b><b class="d1">1</b></span></div>
<div class="c" style="left:224.65px;top:587.72px"><span class="n"><b class="d1">1</b><b class="d3">3</b><b class="d6">6</b><b class="d4">4</b></span></div>
<div class="c" style="left:257.21px;top:587.72px"><span class="n"><b class="d1">1</b><b class="d2">2</b><b class="d3">3</b><b class="d8">8</b></span></div>
<div class="c" style="left:289.77px;top:587.72px"><span class="n"><b class="d1">1</b><b class="d1">1</b><b class="d2">2</b><b class="d3">3</b></span></div>
<div class="c" style="left:388.55px;top:357.00px"><span class="n"><b class="d9">9</b><b class="d8">8</b><b class="d1">1</b></span></div>
<div class="c" style="left:421.11px;top:357.00px"><span class="n"><b class="d1">1</b><b class="d1">1</b><b class="d0">0</b><b class="d2">2</b></span></div>
<div class="c" style="left:453.67px;top:357.00px"><span class="n"><b class="d1">1</b><b class="d1">1</b><b class="d2">2</b><b class="d2">2</b></span></div>
<div class="c" style="left:486.23px;top:357.00px"><span class="n"><b class="d1">1</b><b class="d1">1</b><b class="d2">2</b><b class="d9">9</b></span></div>
<div class="c" style="left:518.79px;top:357.00px"><span class="n"><b class="d1">1</b><b class="d1">1</b><b class="d2">2</b><b class="d6">6</b></span></div>
<div class="c" style="left:551.35px;top:357.00px"><span class="n"><b class="d1">1</b><b class="d1">1</b><b class="d2">2</b><b class="d0">0</b></span></div>
<div class="c" style="left:583.91px;top:357.00px"><span class="n"><b class="d1">1</b><b class="d1">1</b><b class="d0">0</b><b class="d0">0</b></span></div>
<div class="c" style="left:616.47px;top:357.00px"><span class="n"><b class="d9">9</b><b class="d8">8</b><b class="d0">0</b></span></div>
<div class="c" style="left:388.55px;top:389.96px"><span class="n"><b class="d1">1</b><b class="d0">0</b><b class="d5">5</b><b class="d1">1</b></span></div>
<div class="c" style="left:421.11px;top:389.96px"><span class="n"><b class="d1">1</b><b class="d2">2</b><b class="d1">1</b><b class="d3">3</b></span></div>
<div class="c" style="left:453.67px;top:389.96px"><span class="n"><b class="d1">1</b><b class="d2">2</b><b class="d2">2</b><b class="d0">0</b></span></div>
<div class="c" style="left:486.23px;top:389.96px"><span class="n"><b class="d1">1</b><b class="d2">2</b><b class="d2">2</b><b class="d7">7</b></span></div>
<div class="c" style="left:518.79px;top:389.96px"><span class="n"><b class="d1">1</b><b class="d2">2</b><b class="d2">2</b><b class="d4">4</b></span></div>
<div class="c" style="left:551.35px;top:389.96px"><span class="n"><b class="d1">1</b><b class="d2">2</b><b class="d1">1</b><b class="d9">9</b></span></div>
<div class="c" style="left:583.91px;top:389.96px"><span class="n"><b class="d1">1</b><b class="d2">2</b><b class="d1">1</b><b class="d2">2</b></span></div>
<div class="c" style="left:616.47px;top:389.96px"><span class="n"><b class="d1">1</b><b class="d0">0</b><b class="d5">5</b><b class="d3">3</b></span></div>
<div class="c" style="left:388.55px;top:422.92px"><span class="n"><b class="d1">1</b><b class="d0">0</b><b class="d7">7</b><b class="d5">5</b></span></div>
<div class="c" style="left:421.11px;top:422.92px"><span class="n"><b class="d1">1</b><b class="d2">2</b><b class="d4">4</b><b class="d6">6</b></span></div>
<div class="c" style="left:453.67px;top:422.92px"><span class="n"><b class="d1">1</b><b class="d2">2</b><b class="d5">5</b><b class="d4">4</b></span></div>
<div class="c" style="left:486.23px;top:422.92px"><span class="n"><b class="d1">1</b><b class="d2">2</b><b class="d7">7</b><b class="d2">2</b></span></div>
<div class="c" style="left:518.79px;top:422.92px"><span class="n"><b class="d1">1</b><b class="d2">2</b><b class="d6">6</b><b class="d9">9</b></span></div>
<div class="c" style="left:551.35px;top:422.92px"><span class="n"><b class="d1">1</b><b class="d2">2</b><b class="d5">5</b><b class="d2">2</b></span></div>
<div class="c" style="left:583.91px;top:422.92px"><span class="n"><b class="d1">1</b><b class="d2">2</b><b class="d4">4</b><b class="d4">4</b></span></div>
<div class="c" style="left:616.47px;top:422.92px"><span class="n"><b class="d1">1</b><b class="d0">0</b><b class="d7">7</b><b class="d4">4</b></span></div>
<div class="c" style="left:388.55px;top:455.88px"><span class="n"><b class="d1">1</b><b class="d1">1</b><b class="d0">0</b><b class="d1">1</b></span></div>
<div class="c" style="left:421.11px;top:455.88px"><span class="n"><b class="d1">1</b><b class="d2">2</b><b class="d5">5</b><b class="d8">8</b></span></div>
<div class="c" style="left:453.67px;top:455.88px"><span class="n"><b class="d1">1</b><b class="d2">2</b><b class="d6">6</b><b class="d0">0</b></span></div>
<div class="c" style="left:486.23px;top:455.88px"><span class="n"><b class="d1">1</b><b class="d2">2</b><b class="d7">7</b><b class="d7">7</b></span></div>
<div class="c" style="left:518.79px;top:455.88px"><span class="n"><b class="d1">1</b><b class="d2">2</b><b class="d7">7</b><b class="d2">2</b></span></div>
<div class="c" style="left:551.35px;top:455.88px"><span class="n"><b class="d1">1</b><b class="d2">2</b><b class="d5">5</b><b class="d9">9</b></span></div>
<div class="c" style="left:583.91px;top:455.88px"><span class="n"><b class="d1">1</b><b class="d2">2</b><b class="d5">5</b><b class="d7">7</b></span></div>
<div class="c" style="left:616.47px;top:455.88px"><span class="n"><b class="d1">1</b><b class="d1">1</b><b class="d0">0</b><b class="d3">3</b></span></div>
<div class="c" style="left:388.55px;top:488.84px"><span class="n"><b class="d1">1</b><b class="d1">1</b><b class="d0">0</b><b class="d6">6</b></span></div>
<div class="c" style="left:421.11px;top:488.84px"><span class="n"><b class="d1">1</b><b class="d2">2</b><b class="d5">5</b><b class="d5">5</b></span></div>
<div class="c" style="left:453.67px;top:488.84px"><span class="n"><b class="d1">1</b><b class="d2">2</b><b class="d5">5</b><b class="d7">7</b></span></div>
<div class="c" style="left:486.23px;top:488.84px"><span class="n"><b class="d1">1</b><b class="d2">2</b><b class="d6">6</b><b class="d9">9</b></span></div>
<div class="c" style="left:518.79px;top:488.84px"><span class="n"><b class="d1">1</b><b class="d2">2</b><b class="d7">7</b><b class="d5">5</b></span></div>
<div class="c" style="left:551.35px;top:488.84px"><span class="n"><b class="d1">1</b><b class="d2">2</b><b class="d5">5</b><b class="d4">4</b></span></div>
<div class="c" style="left:583.91px;top:488.84px"><span class="n"><b class="d1">1</b><b class="d2">2</b><b class="d6">6</b><b class="d2">2</b></span></div>
<div class="c" style="left:616.47px;top:488.84px"><span class="n"><b class="d1">1</b><b class="d1">1</b><b class="d0">0</b><b class="d8">8</b></span></div>
<div class="c" style="left:388.55px;top:521.80px"><span class="n"><b class="d1">1</b><b class="d0">0</b><b class="d7">7</b><b class="d3">3</b></span></div>
<div class="c" style="left:421.11px;top:521.80px"><span class="n"><b class="d1">1</b><b class="d2">2</b><b class="d4">4</b><b class="d7">7</b></span></div>
<div class="c" style="left:453.67px;top:521.80px"><span class="n"><b class="d1">1</b><b class="d2">2</b><b class="d5">5</b><b class="d5">5</b></span></div>
<div class="c" style="left:486.23px;top:521.80px"><span class="n"><b class="d1">1</b><b class="d2">2</b><b class="d7">7</b><b class="d1">1</b></span></div>
<div class="c" style="left:518.79px;top:521.80px"><span class="n"><b class="d1">1</b><b class="d2">2</b><b class="d6">6</b><b class="d4">4</b></span></div>
<div class="c" style="left:551.35px;top:521.80px"><span class="n"><b class="d1">1</b><b class="d2">2</b><b class="d5">5</b><b class="d0">0</b></span></div>
<div class="c" style="left:583.91px;top:521.80px"><span class="n"><b class="d1">1</b><b class="d2">2</b><b class="d4">4</b><b class="d9">9</b></span></div>
<div class="c" style="left:616.47px;top:521.80px"><span class="n"><b class="d1">1</b><b class="d0">0</b><b class="d7">7</b><b class="d2">2</b></span></div>
<div class="c" style="left:388.55px;top:554.76px"><span class="n"><b class="d1">1</b><b class="d0">0</b><b class="d5">5</b><b class="d5">5</b></span></div>
<div class="c" style="left:421.11px;top:554.76px"><span class="n"><b class="d1">1</b><b class="d2">2</b><b class="d1">1</b><b class="d1">1</b></span></div>
<div class="c" style="left:453.67px;top:554.76px"><span class="n"><b class="d1">1</b><b class="d2">2</b><b class="d2">2</b><b class="d2">2</b></span></div>
<div class="c" style="left:486.23px;top:554.76px"><span class="n"><b class="d1">1</b><b class="d2">2</b><b class="d2">2</b><b class="d8">8</b></span></div>
<div class="c" style="left:518.79px;top:554.76px"><span class="n"><b class="d1">1</b><b class="d2">2</b><b class="d2">2</b><b class="d3">3</b></span></div>
<div class="c" style="left:551.35px;top:554.76px"><span class="n"><b class="d1">1</b><b class="d2">2</b><b class="d1">1</b><b class="d4">4</b></span></div>
<div class="c" style="left:583.91px;top:554.76px"><span class="n"><b class="d1">1</b><b class="d2">2</b><b class="d1">1</b><b class="d0">0</b></span></div>
<div class="c" style="left:616.47px;top:554.76px"><span class="n"><b class="d1">1</b><b class="d0">0</b><b class="d5">5</b><b class="d6">6</b></span></div>
<div class="c" style="left:388.55px;top:587.72px"><span class="n"><b class="d9">9</b><b class="d8">8</b><b class="d2">2</b></span></div>
<div class="c" style="left:421.11px;top:587.72px"><span class="n"><b class="d1">1</b><b class="d1">1</b><b class="d0">0</b><b class="d2">2</b></span></div>
<div class="c" style="left:453.67px;top:587.72px"><span class="n"><b class="d1">1</b><b class="d1">1</b><b class="d1">1</b><b class="d7">7</b></span></div>
<div class="c" style="left:486.23px;top:587.72px"><span class="n"><b class="d1">1</b><b class="d1">1</b><b class="d2">2</b><b class="d4">4</b></span></div>
<div class="c" style="left:518.79px;top:587.72px"><span class="n"><b class="d1">1</b><b class="d1">1</b><b class="d3">3</b><b class="d5">5</b></span></div>
<div class="c" style="left:551.35px;top:587.72px"><span class="n"><b class="d1">1</b><b class="d1">1</b><b class="d2">2</b><b class="d6">6</b></span></div>
<div class="c" style="left:583.91px;top:587.72px"><span class="n"><b class="d1">1</b><b class="d1">1</b><b class="d0">0</b><b class="d3">3</b></span></div>
<div class="c" style="left:616.47px;top:587.72px"><span class="n"><b class="d9">9</b><b class="d7">7</b><b class="d8">8</b></span></div>
<i class="x" style="left:93.1px;top:388.4px"></i>
<i class="x" style="left:125.7px;top:388.4px"></i>
<i class="x" style="left:158.2px;top:388.4px"></i>
<i class="x" style="left:190.8px;top:388.4px"></i>
<i class="x" style="left:223.4px;top:388.4px"></i>
<i class="x" style="left:255.9px;top:388.4px"></i>
<i class="x" style="left:288.5px;top:388.4px"></i>
<i class="x" style="left:93.1px;top:421.4px"></i>
<i class="x" style="left:125.7px;top:421.4px"></i>
<i class="x" style="left:158.2px;top:421.4px"></i>
<i class="x" style="left:190.8px;top:421.4px"></i>
<i class="x" style="left:223.4px;top:421.4px"></i>
<i class="x" style="left:255.9px;top:421.4px"></i>
<i class="x" style="left:288.5px;top:421.4px"></i>
<i class="x" style="left:93.1px;top:454.4px"></i>
<i class="x" style="left:125.7px;top:454.4px"></i>
<i class="x" style="left:158.2px;top:454.4px"></i>
<i class="x" style="left:190.8px;top:454.4px"></i>
<i class="x" style="left:223.4px;top:454.4px"></i>
<i class="x" style="left:255.9px;top:454.4px"></i>
<i class="x" style="left:288.5px;top:454.4px"></i>
<i class="x" style="left:93.1px;top:487.3px"></i>
<i class="x" style="left:125.7px;top:487.3px"></i>
<i class="x" style="left:158.2px;top:487.3px"></i>
<i class="x" style="left:190.8px;top:487.3px"></i>
<i class="x" style="left:223.4px;top:487.3px"></i>
<i class="x" style="left:255.9px;top:487.3px"></i>
<i class="x" style="left:288.5px;top:487.3px"></i>
<i class="x" style="left:93.1px;top:520.3px"></i>
<i class="x" style="left:125.7px;top:520.3px"></i>
<i class="x" style="left:158.2px;top:520.3px"></i>
<i class="x" style="left:190.8px;top:520.3px"></i>
<i class="x" style="left:223.4px;top:520.3px"></i>
<i class="x" style="left:255.9px;top:520.3px"></i>
<i class="x" style="left:288.5px;top:520.3px"></i>
<i class="x" style="left:93.1px;top:553.2px"></i>
<i class="x" style="left:125.7px;top:553.2px"></i>
<i class="x" style="left:158.2px;top:553.2px"></i>
<i class="x" style="left:190.8px;top:553.2px"></i>
<i class="x" style="left:223.4px;top:553.2px"></i>
<i class="x" style="left:255.9px;top:553.2px"></i>
<i class="x" style="left:288.5px;top:553.2px"></i>
<i class="x" style="left:93.1px;top:586.2px"></i>
<i class="x" style="left:125.7px;top:586.2px"></i>
<i class="x" style="left:158.2px;top:586.2px"></i>
<i class="x" style="left:190.8px;top:586.2px"></i>
<i class="x" style="left:223.4px;top:586.2px"></i>
<i class="x" style="left:255.9px;top:586.2px"></i>
<i class="x" style="left:288.5px;top:586.2px"></i>
<i class="x" style="left:419.8px;top:388.4px"></i>
<i class="x" style="left:452.4px;top:388.4px"></i>
<i class="x" style="left:485.0px;top:388.4px"></i>
<i class="x" style="left:517.5px;top:388.4px"></i>
<i class="x" style="left:550.1px;top:388.4px"></i>
<i class="x" style="left:582.6px;top:388.4px"></i>
<i class="x" style="left:615.2px;top:388.4px"></i>
<i class="x" style="left:419.8px;top:421.4px"></i>
<i class="x" style="left:452.4px;top:421.4px"></i>
<i class="x" style="left:485.0px;top:421.4px"></i>
<i class="x" style="left:517.5px;top:421.4px"></i>
<i class="x" style="left:550.1px;top:421.4px"></i>
<i class="x" style="left:582.6px;top:421.4px"></i>
<i class="x" style="left:615.2px;top:421.4px"></i>
<i class="x" style="left:419.8px;top:454.4px"></i>
<i class="x" style="left:452.4px;top:454.4px"></i>
<i class="x" style="left:485.0px;top:454.4px"></i>
<i class="x" style="left:517.5px;top:454.4px"></i>
<i class="x" style="left:550.1px;top:454.4px"></i>
<i class="x" style="left:582.6px;top:454.4px"></i>
<i class="x" style="left:615.2px;top:454.4px"></i>
<i class="x" style="left:419.8px;top:487.3px"></i>
<i class="x" style="left:452.4px;top:487.3px"></i>
<i class="x" style="left:485.0px;top:487.3px"></i>
<i class="x" style="left:517.5px;top:487.3px"></i>
<i class="x" style="left:550.1px;top:487.3px"></i>
<i class="x" style="left:582.6px;top:487.3px"></i>
<i class="x" style="left:615.2px;top:487.3px"></i>
<i class="x" style="left:419.8px;top:520.3px"></i>
<i class="x" style="left:452.4px;top:520.3px"></i>
<i class="x" style="left:485.0px;top:520.3px"></i>
<i class="x" style="left:517.5px;top:520.3px"></i>
<i class="x" style="left:550.1px;top:520.3px"></i>
<i class="x" style="left:582.6px;top:520.3px"></i>
<i class="x" style="left:615.2px;top:520.3px"></i>
<i class="x" style="left:419.8px;top:553.2px"></i>
<i class="x" style="left:452.4px;top:553.2px"></i>
<i class="x" style="left:485.0px;top:553.2px"></i>
<i class="x" style="left:517.5px;top:553.2px"></i>
<i class="x" style="left:550.1px;top:553.2px"></i>
<i class="x" style="left:582.6px;top:553.2px"></i>
<i class="x" style="left:615.2px;top:553.2px"></i>
<i class="x" style="left:419.8px;top:586.2px"></i>
<i class="x" style="left:452.4px;top:586.2px"></i>
<i class="x" style="left:485.0px;top:586.2px"></i>
<i class="x" style="left:517.5px;top:586.2px"></i>
<i class="x" style="left:550.1px;top:586.2px"></i>
<i class="x" style="left:582.6px;top:586.2px"></i>
<i class="x" style="left:615.2px;top:586.2px"></i>
<div class="vl" style="left:51.50px"></div>
<div class="hl" style="left:52.20px"></div>
<div class="dot" style="left:49.30px"></div>
<div class="mk0" style="left:178.00px"></div>
<div class="vl" style="left:378.20px"></div>
<div class="hl" style="left:378.90px"></div>
<div class="dot" style="left:376.00px"></div>
<div class="mk0" style="left:504.70px"></div>
<svg class="ov" viewBox="0 0 679 679"><path fill="#f4f4f4" d="M45.9 357.6L49.6 355.6V359.6ZM45.9 390.3L49.6 388.3V392.3ZM45.9 423.0L49.6 421.0V425.0ZM45.9 455.7L49.6 453.7V457.7ZM45.9 488.4L49.6 486.4V490.4ZM45.9 521.1L49.6 519.1V523.1ZM45.9 553.8L49.6 551.8V555.8ZM45.9 586.5L49.6 584.5V588.5ZM91.5 629.5H95.3L93.4 633.2ZM124.2 629.5H128.0L126.1 633.2ZM156.2 629.5H160.0L158.1 633.2ZM189.1 629.5H192.9L191.0 633.2ZM223.4 629.5H227.2L225.3 633.2ZM253.6 629.5H257.4L255.5 633.2ZM287.1 629.5H290.9L289.0 633.2ZM317.7 629.5H321.5L319.6 633.2ZM372.6 357.6L376.3 355.6V359.6ZM372.6 390.3L376.3 388.3V392.3ZM372.6 423.0L376.3 421.0V425.0ZM372.6 455.7L376.3 453.7V457.7ZM372.6 488.4L376.3 486.4V490.4ZM372.6 521.1L376.3 519.1V523.1ZM372.6 553.8L376.3 551.8V555.8ZM372.6 586.5L376.3 584.5V588.5ZM418.2 629.5H422.0L420.1 633.2ZM450.9 629.5H454.7L452.8 633.2ZM482.9 629.5H486.7L484.8 633.2ZM515.8 629.5H519.6L517.7 633.2ZM550.1 629.5H553.9L552.0 633.2ZM580.3 629.5H584.1L582.2 633.2ZM613.8 629.5H617.6L615.7 633.2ZM644.4 629.5H648.2L646.3 633.2Z"/></svg>
<span class="t ttl" style="left:63px;top:49px;font-size:58.48px;-webkit-text-stroke-width:2.6px;letter-spacing:4px;transform:translate(0.200px,0.965px) scale(0.5944,0.5)">FC-E6500</span>
<span class="t ttl" style="left:250px;top:49px;font-size:58.48px;-webkit-text-stroke-width:2.6px;letter-spacing:4px;transform:translate(0.054px,0.965px) scale(0.5775,0.5)">UNIFORM</span>
<span class="t ttl" style="left:431px;top:49px;font-size:58.48px;-webkit-text-stroke-width:2.6px;letter-spacing:4px;transform:translate(0.888px,0.965px) scale(0.5431,0.5)">PPFD</span>
<span class="t ttl" style="left:535px;top:49px;font-size:58.48px;-webkit-text-stroke-width:2.6px;letter-spacing:4px;transform:translate(0.670px,0.965px) scale(0.5737,0.5)">MAP</span>
<span class="t sub" style="left:47px;top:108px;font-size:40.0px;-webkit-text-stroke-width:0.9px;transform:translate(0.945px,0.620px) scale(0.5695,0.5)">Even</span>
<span class="t sub" style="left:104px;top:108px;font-size:40.0px;-webkit-text-stroke-width:0.9px;transform:translate(0.747px,0.620px) scale(0.6526,0.5)">light</span>
<span class="t sub" style="left:158px;top:108px;font-size:40.0px;-webkit-text-stroke-width:0.9px;transform:translate(0.091px,0.620px) scale(0.6171,0.5)">distribution,</span>
<span class="t sub" style="left:289px;top:108px;font-size:40.0px;-webkit-text-stroke-width:0.9px;transform:translate(0.304px,0.620px) scale(0.6247,0.5)">promoting</span>
<span class="t sub" style="left:406px;top:108px;font-size:40.0px;-webkit-text-stroke-width:0.9px;transform:translate(0.742px,0.620px) scale(0.6260,0.5)">uniform</span>
<span class="t sub" style="left:496px;top:108px;font-size:40.0px;-webkit-text-stroke-width:0.9px;transform:translate(0.353px,0.620px) scale(0.6035,0.5)">plant</span>
<span class="t sub" style="left:554px;top:108px;font-size:40.0px;-webkit-text-stroke-width:0.9px;transform:translate(0.712px,0.620px) scale(0.6347,0.5)">growth</span>
<span class="t lbl" style="left:119px;top:186px;font-size:27.34px;-webkit-text-stroke-width:1.2px;transform:translate(0.870px,0.184px) scale(0.5987,0.5)">Seedling:</span>
<span class="t lbl" style="left:308px;top:186px;font-size:27.34px;-webkit-text-stroke-width:1.2px;transform:translate(0.532px,0.184px) scale(0.5741,0.5)">Vegetation:</span>
<span class="t lbl" style="left:493px;top:186px;font-size:27.34px;-webkit-text-stroke-width:1.2px;transform:translate(0.320px,0.184px) scale(0.6121,0.5)">Flower:</span>
<span class="t rng" style="left:119px;top:240px;font-size:35.78px;-webkit-text-stroke-width:1.4px;transform:translate(0.757px,0.217px) scale(0.6595,0.5)">100-300</span>
<span class="t rng" style="left:308px;top:240px;font-size:35.78px;-webkit-text-stroke-width:1.4px;transform:translate(0.545px,0.217px) scale(0.6480,0.5)">400-600</span>
<span class="t rng" style="left:492px;top:240px;font-size:32.3px;-webkit-text-stroke-width:1.4px;transform:translate(0.872px,0.686px) scale(0.6363,0.5)">800-1000</span>
<span class="t unit" style="left:119px;top:261px;font-size:24.44px;-webkit-text-stroke-width:0.8px;transform:translate(0.943px,0.292px) scale(0.7062,0.5)">µMol/m2/S</span>
<span class="t unit" style="left:307px;top:261px;font-size:24.44px;-webkit-text-stroke-width:0.8px;transform:translate(0.436px,0.292px) scale(0.7111,0.5)">µMol/m2/S</span>
<span class="t unit" style="left:492px;top:261px;font-size:24.44px;-webkit-text-stroke-width:0.8px;transform:translate(0.436px,0.292px) scale(0.7111,0.5)">µMol/m2/S</span>
<span class="t btxt" style="left:73px;top:319px;font-size:27.06px;-webkit-text-stroke-width:0.6px;transform:translate(0.766px,0.414px) scale(0.5628,0.5)">Height: 8&quot;</span>
<span class="t btxt" style="left:401px;top:319px;font-size:27.06px;-webkit-text-stroke-width:0.6px;transform:translate(0.052px,0.414px) scale(0.5378,0.5)">Height: 12&quot;</span>
<span class="t ax" style="left:23px;top:354px;font-size:27.64px;-webkit-text-stroke-width:1.0px;transform:translate(0.411px,0.071px) scale(0.2560,0.25)">4.0FT</span>
<span class="t ax" style="left:32px;top:386px;font-size:27.64px;-webkit-text-stroke-width:1.0px;transform:translate(0.249px,0.827px) scale(0.2620,0.25)">2.5</span>
<span class="t ax" style="left:32px;top:419px;font-size:27.64px;-webkit-text-stroke-width:1.0px;transform:translate(0.035px,0.555px) scale(0.2678,0.25)">3.0</span>
<span class="t ax" style="left:32px;top:452px;font-size:27.64px;-webkit-text-stroke-width:1.0px;transform:translate(0.161px,0.427px) scale(0.2644,0.25)">2.5</span>
<span class="t ax" style="left:32px;top:484px;font-size:27.64px;-webkit-text-stroke-width:1.0px;transform:translate(0.207px,0.771px) scale(0.2631,0.25)">2.0</span>
<span class="t ax" style="left:32px;top:517px;font-size:27.64px;-webkit-text-stroke-width:1.0px;transform:translate(0.069px,0.639px) scale(0.2668,0.25)">1.5</span>
<span class="t ax" style="left:32px;top:550px;font-size:27.64px;-webkit-text-stroke-width:1.0px;transform:translate(0.069px,0.627px) scale(0.2668,0.25)">1.0</span>
<span class="t ax" style="left:32px;top:583px;font-size:27.64px;-webkit-text-stroke-width:1.0px;transform:translate(0.006px,0.071px) scale(0.2685,0.25)">0.5</span>
<span class="t ax" style="left:36px;top:624px;font-size:29.96px;-webkit-text-stroke-width:1.0px;transform:translate(0.172px,0.260px) scale(0.2808,0.25)">0</span>
<span class="t ax" style="left:87px;top:636px;font-size:27.64px;-webkit-text-stroke-width:1.0px;transform:translate(0.909px,0.639px) scale(0.2809,0.25)">0.5</span>
<span class="t ax" style="left:120px;top:636px;font-size:27.64px;-webkit-text-stroke-width:1.0px;transform:translate(0.892px,0.637px) scale(0.2746,0.25)">1.0</span>
<span class="t ax" style="left:152px;top:636px;font-size:27.64px;-webkit-text-stroke-width:1.0px;transform:translate(0.892px,0.637px) scale(0.2746,0.25)">1.5</span>
<span class="t ax" style="left:185px;top:636px;font-size:27.64px;-webkit-text-stroke-width:1.0px;transform:translate(0.906px,0.639px) scale(0.2638,0.25)">2.0</span>
<span class="t ax" style="left:219px;top:636px;font-size:27.64px;-webkit-text-stroke-width:1.0px;transform:translate(0.997px,0.639px) scale(0.2805,0.25)">2.5</span>
<span class="t ax" style="left:250px;top:636px;font-size:27.64px;-webkit-text-stroke-width:1.0px;transform:translate(0.093px,0.639px) scale(0.2824,0.25)">3.0</span>
<span class="t ax" style="left:283px;top:636px;font-size:27.64px;-webkit-text-stroke-width:1.0px;transform:translate(0.932px,0.639px) scale(0.2631,0.25)">3.5</span>
<span class="t ax" style="left:310px;top:636px;font-size:27.64px;-webkit-text-stroke-width:1.0px;transform:translate(0.248px,0.639px) scale(0.2572,0.25)">4.0FT</span>
<span class="t ax" style="left:350px;top:354px;font-size:27.64px;-webkit-text-stroke-width:1.0px;transform:translate(0.000px,0.071px) scale(0.2564,0.25)">4.0FT</span>
<span class="t ax" style="left:358px;top:386px;font-size:27.64px;-webkit-text-stroke-width:1.0px;transform:translate(0.812px,0.827px) scale(0.2619,0.25)">2.5</span>
<span class="t ax" style="left:358px;top:419px;font-size:27.64px;-webkit-text-stroke-width:1.0px;transform:translate(0.963px,0.555px) scale(0.2543,0.25)">3.0</span>
<span class="t ax" style="left:358px;top:452px;font-size:27.64px;-webkit-text-stroke-width:1.0px;transform:translate(0.981px,0.427px) scale(0.2610,0.25)">2.5</span>
<span class="t ax" style="left:358px;top:484px;font-size:27.64px;-webkit-text-stroke-width:1.0px;transform:translate(0.812px,0.771px) scale(0.2589,0.25)">2.0</span>
<span class="t ax" style="left:358px;top:517px;font-size:27.64px;-webkit-text-stroke-width:1.0px;transform:translate(0.756px,0.639px) scale(0.2663,0.25)">1.5</span>
<span class="t ax" style="left:358px;top:550px;font-size:27.64px;-webkit-text-stroke-width:1.0px;transform:translate(0.761px,0.627px) scale(0.2602,0.25)">1.0</span>
<span class="t ax" style="left:358px;top:583px;font-size:27.64px;-webkit-text-stroke-width:1.0px;transform:translate(0.958px,0.071px) scale(0.2584,0.25)">0.5</span>
<span class="t ax" style="left:362px;top:624px;font-size:29.96px;-webkit-text-stroke-width:1.0px;transform:translate(0.634px,0.244px) scale(0.3255,0.25)">0</span>
<span class="t ax" style="left:415px;top:636px;font-size:27.64px;-webkit-text-stroke-width:1.0px;transform:translate(0.059px,0.637px) scale(0.2702,0.25)">0.5</span>
<span class="t ax" style="left:447px;top:636px;font-size:27.64px;-webkit-text-stroke-width:1.0px;transform:translate(0.143px,0.639px) scale(0.2797,0.25)">1.0</span>
<span class="t ax" style="left:479px;top:636px;font-size:27.64px;-webkit-text-stroke-width:1.0px;transform:translate(0.152px,0.639px) scale(0.2736,0.25)">1.5</span>
<span class="t ax" style="left:512px;top:636px;font-size:27.64px;-webkit-text-stroke-width:1.0px;transform:translate(0.380px,0.639px) scale(0.2735,0.25)">2.0</span>
<span class="t ax" style="left:546px;top:636px;font-size:27.64px;-webkit-text-stroke-width:1.0px;transform:translate(0.906px,0.639px) scale(0.2638,0.25)">2.5</span>
<span class="t ax" style="left:577px;top:636px;font-size:27.64px;-webkit-text-stroke-width:1.0px;transform:translate(0.080px,0.639px) scale(0.2721,0.25)">3.0</span>
<span class="t ax" style="left:610px;top:636px;font-size:27.64px;-webkit-text-stroke-width:1.0px;transform:translate(0.438px,0.639px) scale(0.2653,0.25)">3.5</span>
<span class="t ax" style="left:637px;top:636px;font-size:27.64px;-webkit-text-stroke-width:1.0px;transform:translate(0.201px,0.637px) scale(0.2557,0.25)">4.0FT</span>
<span class="t mk" style="left:178px;top:484px;font-size:40.72px;-webkit-text-stroke-width:1.2px;transform:translate(0.945px,0.056px) scale(0.2542,0.25)">1590</span>
<span class="t mk" style="left:506px;top:484px;font-size:40.72px;-webkit-text-stroke-width:1.2px;transform:translate(0.214px,0.056px) scale(0.2512,0.25)">1280</span>
</div>
</body></html>
